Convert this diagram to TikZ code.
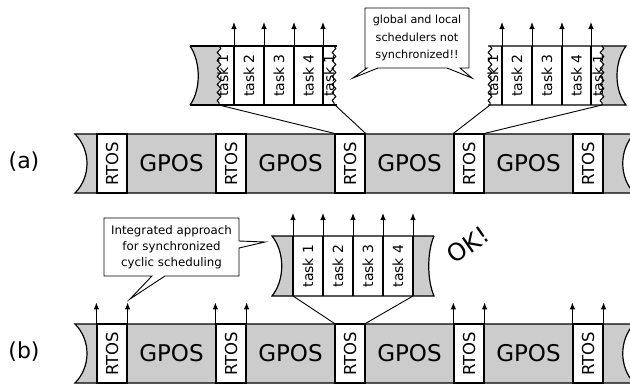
\documentclass[tikz,border=0pt]{standalone}
\usepackage{fontspec}
\setmainfont{DejaVu Sans}
\usetikzlibrary{arrows.meta,decorations.pathmorphing}

\definecolor{osgray}{gray}{0.8}

\tikzset{
  barline/.style={draw=black, line width=1.2pt},
  thinline/.style={draw=black, line width=0.9pt},
  tear/.style={draw=black, line width=1pt, decorate,
    decoration={snake, segment length=8pt, amplitude=1.8pt}},
  tick/.style={-{Latex[length=7pt,width=5.5pt]}, line width=1pt},
  rtosbox/.style={draw=black, line width=1.2pt, fill=white,
    minimum width=30pt, minimum height=59pt, inner sep=0pt},
  rtostext/.style={rotate=90, inner sep=0pt, font=\fontsize{16.5}{16.5}\selectfont},
  gpostext/.style={inner sep=0pt, font=\fontsize{23}{23}\selectfont},
  tasktext/.style={rotate=90, inner sep=0pt, font=\fontsize{14}{14}\selectfont},
  caption/.style={inner sep=0pt, font=\fontsize{22}{22}\selectfont},
  bubble/.style={fill=white, draw=black, line width=0.9pt, line join=miter},
}

\begin{document}
\begin{tikzpicture}[x=1pt, y=-1pt]
\useasboundingbox (0,0) rectangle (630,384);
\clip (0,0) rectangle (630,384);

% ---------------- timeline bars ----------------
\foreach \row/\top/\bot in {a/134/193, b/324/383} {
  \fill[osgray] (75,\top) -- (634,\top)
      .. controls (619,\top+16) and (619,\bot-16) .. (634,\bot)
      -- (75,\bot) .. controls (91,\bot-16) and (91,\top+16) .. (75,\top);
  \draw[barline] (634,\top) -- (75,\top)
      .. controls (91,\top+16) and (91,\bot-16) .. (75,\bot) -- (634,\bot);
  \draw[barline] (634,\top) .. controls (619,\top+16) and (619,\bot-16) .. (634,\bot);
  \foreach \i in {0,...,4} {
    \node[rtosbox] (r\row\i) at ({112+119*\i},{(\top+\bot)/2}) {};
    \node[rtostext] (r\row\i t) at (r\row\i) {RTOS};
  }
  \foreach \i in {0,...,3} {
    \node[gpostext] (g\row\i) at ({171.5+119*\i},{(\top+\bot)/2}) {GPOS};
  }
}

\node[caption] (capa) at (24,162) {(a)};
\node[caption] (capb) at (24,352) {(b)};

% ---------------- (a) left zoomed strip ----------------
\fill[white] (219,46) rectangle (335,105);
\fill[osgray] (190,46) -- (219,46) -- (219,105) -- (190,105)
   .. controls (201,90) and (201,62) .. (190,46);
\foreach \x/\t [count=\k] in {223/task 1, 249/task 2, 279/task 3, 308.5/task 4, 329/task 1} {
  \node[tasktext] (la\k) at (\x,75.5) {\t};
}
\draw[barline] (190,46) .. controls (201,62) and (201,90) .. (190,105);
\draw[barline] (190,46) -- (337,46);
\draw[barline] (190,105) -- (337,105);
\foreach \x [count=\k] in {234,264,294,323} {
  \coordinate (lab\k) at (\x,105);
  \coordinate (lat\k) at (\x,46);
  \coordinate (lah\k) at (\x,22);
  \draw[barline] (lat\k) -- (lab\k);
  \draw[tick] (lat\k) -- (lah\k);
}
\draw[tear] (219,46) -- (219,105);
\draw[tear] (334,46) -- (334,105);
\coordinate (laL) at (219,105);
\coordinate (laR) at (335,105);
\draw[thinline] (laL) -- (ra2.north west);
\draw[thinline] (laR) -- (ra2.north east);

% ---------------- (a) right zoomed strip ----------------
\fill[white] (490,46) rectangle (602,105);
\fill[osgray] (602,46) -- (626,46) .. controls (614,62) and (614,90) .. (626,105)
   -- (602,105) -- cycle;
\foreach \x/\t [count=\k] in {493/task 1, 517/task 2, 547/task 3, 576.5/task 4, 598/task 1} {
  \node[tasktext] (lb\k) at (\x,75.5) {\t};
}
\draw[barline] (488,46) -- (626,46) .. controls (614,62) and (614,90) .. (626,105) -- (488,105);
\foreach \x [count=\k] in {502,532,562,591} {
  \coordinate (lbb\k) at (\x,105);
  \coordinate (lbt\k) at (\x,46);
  \coordinate (lbh\k) at (\x,22);
  \draw[barline] (lbt\k) -- (lbb\k);
  \draw[tick] (lbt\k) -- (lbh\k);
}
\draw[tear] (490,46) -- (490,105);
\draw[tear] (602,46) -- (602,105);
\coordinate (lbL) at (490,105);
\coordinate (lbR) at (602,105);
\draw[thinline] (lbL) -- (ra3.north west);
\draw[thinline] (lbR) -- (ra3.north east);

% ---------------- (a) speech bubble ----------------
\draw[bubble] (365,8) -- (469,8) -- (469,68) -- (460,68) -- (472,78) -- (447,68)
   -- (378,68) -- (353,78) -- (367,68) -- (365,68) -- cycle;
\node[align=center, inner sep=0pt, font=\fontsize{11.2}{17.5}\selectfont] (notea) at (417,38)
   {global and local\\schedulers not\\synchronized!!};

% ---------------- (b) zoomed strip ----------------
\fill[white] (293,236) rectangle (413,296);
\fill[osgray] (272,236) -- (293,236) -- (293,296) -- (272,296)
   .. controls (285,280) and (285,252) .. (272,236);
\fill[osgray] (413,236) -- (434,236) .. controls (427,252) and (427,280) .. (434,296)
   -- (413,296) -- cycle;
\foreach \x/\t [count=\k] in {308/task 1, 338/task 2, 368/task 3, 398/task 4} {
  \node[tasktext] (lc\k) at (\x,266) {\t};
}
\draw[barline] (434,236) -- (272,236) .. controls (285,252) and (285,280) .. (272,296)
   -- (434,296) .. controls (427,280) and (427,252) .. (434,236);
\foreach \x [count=\k] in {293,323,353,383,413} {
  \coordinate (lcb\k) at (\x,296);
  \coordinate (lct\k) at (\x,236);
  \coordinate (lch\k) at (\x,213);
  \draw[barline] (lct\k) -- (lcb\k);
  \draw[tick] (lct\k) -- (lch\k);
}
\draw[thinline] (lcb1) -- (rb2.north west);
\draw[thinline] (lcb5) -- (rb2.north east);

% activation arrows on the (b) bar
\foreach \i in {0,1,3,4} {
  \draw[tick] (rb\i.north west) -- ++(0,-21);
  \draw[tick] (rb\i.north east) -- ++(0,-21);
}

% ---------------- (b) speech bubble ----------------
\draw[bubble] (104,218) -- (239,218) -- (239,241) -- (265,242) -- (239,248) -- (239,276)
   -- (165,276) -- (130,299) -- (152,276) -- (104,276) -- cycle;
\node[align=center, inner sep=0pt, font=\fontsize{11.8}{16}\selectfont] (noteb) at (171.5,247)
   {Integrated approach\\for synchronized\\cyclic scheduling};

\node[rotate=35, inner sep=0pt, font=\fontsize{24}{24}\selectfont] (ok) at (468,245) {OK!};
\end{tikzpicture}
\end{document}
